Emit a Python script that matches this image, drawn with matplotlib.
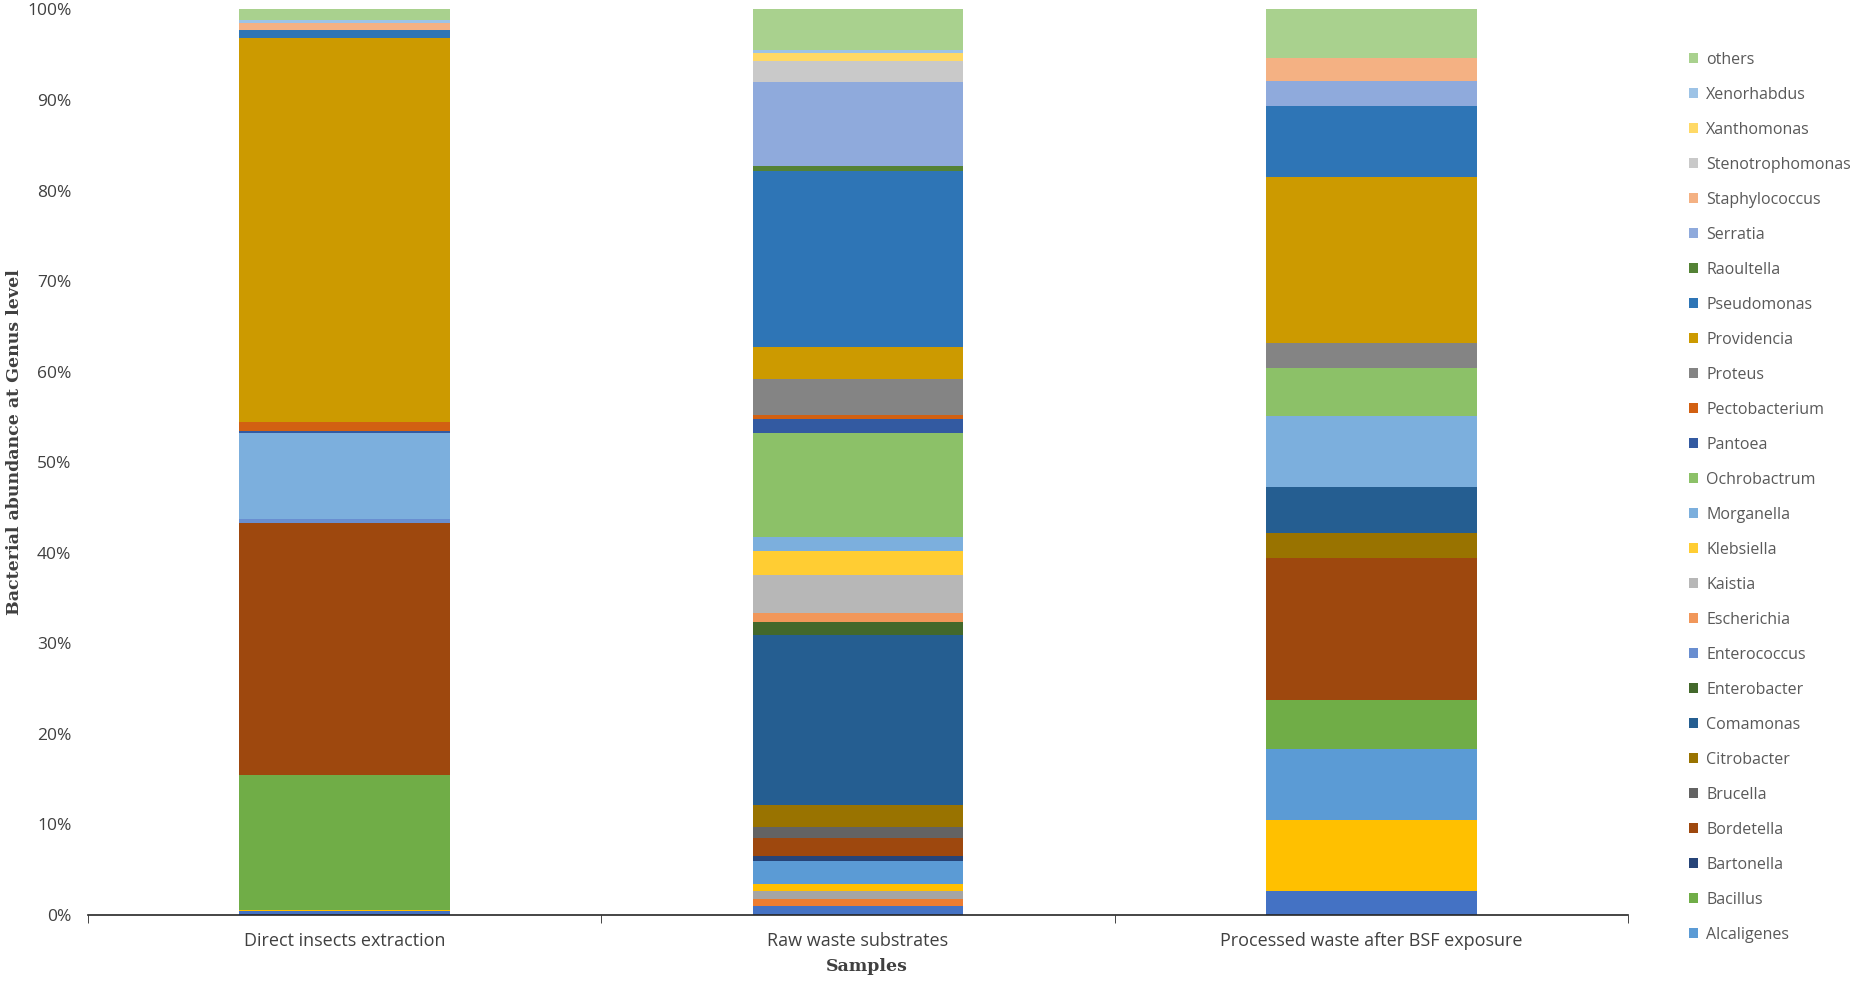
import numpy as np
import matplotlib
matplotlib.use("Agg")
import matplotlib.pyplot as plt
from matplotlib.patches import Patch

samples = ["Direct insects extraction", "Raw waste substrates", "Processed waste after BSF exposure"]

# unnamed series at the bottom of the stack (no legend entry in the original)
unlisted = {
    "s1": [0.4, 1.0, 2.7],
    "s2": [0.0, 0.8, 0.0],
    "s3": [0.0, 0.9, 0.0],
    "s4": [0.2, 0.7, 7.8],
}
unlisted_colors = ["#4472C4", "#ED7D31", "#A5A5A5", "#FFC000"]

genera = ["Alcaligenes", "Bacillus", "Bartonella", "Bordetella", "Brucella", "Citrobacter",
          "Comamonas", "Enterobacter", "Enterococcus", "Escherichia", "Kaistia", "Klebsiella",
          "Morganella", "Ochrobactrum", "Pantoea", "Pectobacterium", "Proteus", "Providencia",
          "Pseudomonas", "Raoultella", "Serratia", "Staphylococcus", "Stenotrophomonas",
          "Xanthomonas", "Xenorhabdus", "others"]

alcaligenes = [0.0, 2.5, 7.8]
bacillus = [14.9, 0.0, 5.4]
bartonella = [0.0, 0.6, 0.0]
bordetella = [27.8, 2.0, 15.7]
brucella = [0.0, 1.2, 0.0]
citrobacter = [0.0, 2.4, 2.7]
comamonas = [0.0, 18.7, 5.1]
enterobacter = [0.0, 1.5, 0.0]
enterococcus = [0.4, 0.0, 0.0]
escherichia = [0.0, 1.0, 0.0]
kaistia = [0.0, 4.2, 0.0]
klebsiella = [0.0, 2.6, 0.0]
morganella = [9.5, 1.5, 7.8]
ochrobactrum = [0.0, 11.5, 5.3]
pantoea = [0.2, 1.5, 0.0]
pectobacterium = [1.0, 0.5, 0.0]
proteus = [0.0, 3.9, 2.7]
providencia = [42.3, 3.6, 18.3]
pseudomonas = [0.9, 19.3, 7.9]
raoultella = [0.0, 0.55, 0.0]
serratia = [0.0, 9.3, 2.7]
staphylococcus = [0.8, 0.0, 2.6]
stenotrophomonas = [0.0, 2.3, 0.0]
xanthomonas = [0.0, 0.9, 0.0]
xenorhabdus = [0.3, 0.3, 0.0]
others = [1.2, 4.5, 5.3]

values = [alcaligenes, bacillus, bartonella, bordetella, brucella, citrobacter, comamonas,
          enterobacter, enterococcus, escherichia, kaistia, klebsiella, morganella, ochrobactrum,
          pantoea, pectobacterium, proteus, providencia, pseudomonas, raoultella, serratia,
          staphylococcus, stenotrophomonas, xanthomonas, xenorhabdus, others]

colors = ["#5B9BD5", "#70AD47", "#264478", "#9E480E", "#636363", "#997300",
          "#255E91", "#43682B", "#698ED0", "#F1975A", "#B7B7B7", "#FFCD33",
          "#7CAFDD", "#8CC168", "#335AA1", "#D26012", "#848484", "#CC9A00",
          "#2E75B6", "#548235", "#8FAADC", "#F4B183", "#C9C9C9", "#FFD966",
          "#9DC3E6", "#A9D18E"]

# 100% stacked: normalise each sample
all_series = [np.array(v, dtype=float) for v in unlisted.values()] + [np.array(v, dtype=float) for v in values]
totals = np.sum(all_series, axis=0)
all_series = [s / totals * 100 for s in all_series]
all_colors = unlisted_colors + colors

fig = plt.figure(figsize=(18.5, 9.82), dpi=100)
ax = fig.add_axes([0.0476, 0.0682, 0.8324, 0.9222])

x = np.arange(len(samples))
bottom = np.zeros(len(samples))
for s, c in zip(all_series, all_colors):
    ax.bar(x, s, width=0.41, bottom=bottom, color=c, linewidth=0)
    bottom += s

ax.set_xlim(-0.5, 2.5)
ax.set_ylim(0, 100)
ax.set_yticks(np.arange(0, 101, 10))
ax.set_yticklabels([f"{v}%" for v in range(0, 101, 10)])
ax.set_xticks(x)
ax.set_xticklabels(samples)
ax.set_xticks([-0.5, 0.5, 1.5, 2.5], minor=True)
ax.tick_params(axis="y", length=0, pad=12, labelsize=12.5, labelcolor="#404040")
ax.tick_params(axis="x", which="major", length=0, pad=12, labelsize=13, labelcolor="#404040")
ax.tick_params(axis="x", which="minor", length=6, direction="out", color="#262626")
for lab in ax.get_xticklabels() + ax.get_yticklabels():
    lab.set_family("Open Sans")

for sp in ["top", "right", "left"]:
    ax.spines[sp].set_visible(False)
ax.spines["bottom"].set_color("#262626")
ax.spines["bottom"].set_linewidth(1.2)

ax.set_ylabel("Bacterial abundance at Genus level", family="DejaVu Serif",
              fontweight="bold", fontsize=12.5, color="#404040")
ax.yaxis.set_label_coords(-0.042, 0.522)
ax.set_xlabel("Samples", family="DejaVu Serif", fontweight="bold", fontsize=12.5,
              color="#404040")
ax.xaxis.set_label_coords(0.506, -0.048)

handles = [Patch(facecolor=c, edgecolor="none", label=g) for g, c in zip(genera, colors)]
leg = fig.legend(handles=handles[::-1], loc="upper left", bbox_to_anchor=(0.905, 0.962),
                 frameon=False, handlelength=0.6, handleheight=0.6, handletextpad=0.5,
                 labelspacing=1.19, prop={"family": "Open Sans", "size": 11.5})
for t in leg.get_texts():
    t.set_color("#595959")

fig.savefig("out.png", dpi=100)
